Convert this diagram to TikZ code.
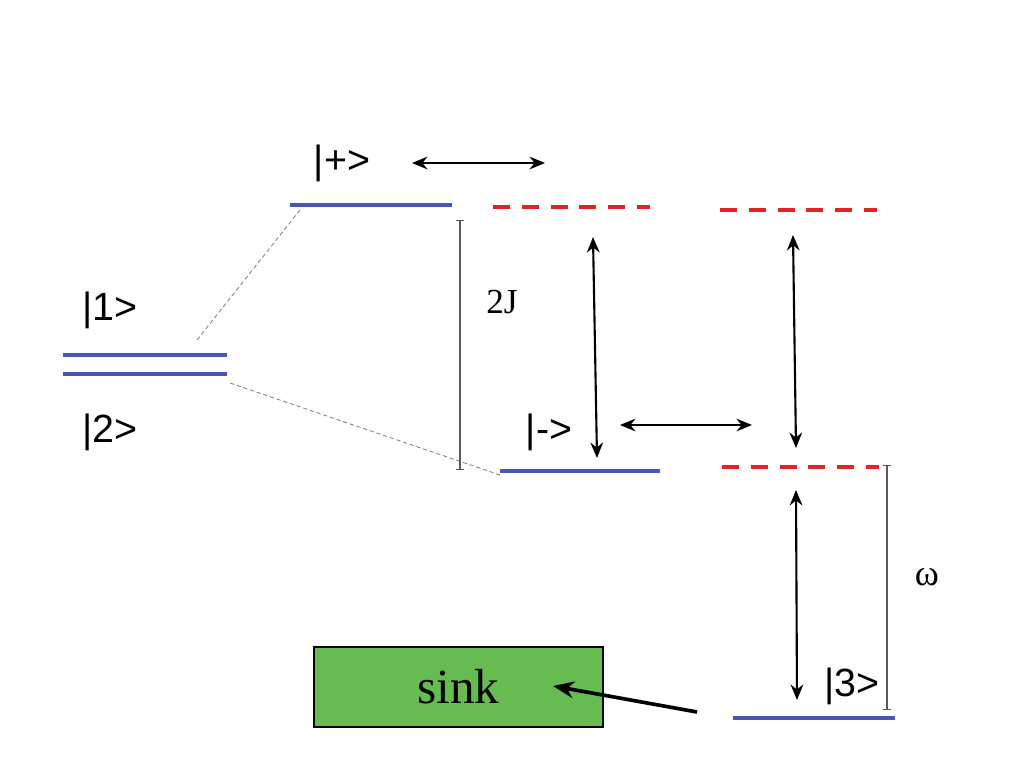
\documentclass[tikz,border=0pt]{standalone}
\usepackage{fontspec}
\setmainfont{Liberation Serif}
\setsansfont{Liberation Sans}
\usetikzlibrary{arrows.meta}
\definecolor{levelblue}{HTML}{4A55B8}
\definecolor{virtred}{HTML}{E02424}
\definecolor{sinkgreen}{HTML}{66BC50}
\tikzset{
  level/.style={draw=levelblue, line width=2.2pt},
  virtual/.style={draw=virtred, line width=3pt, dash pattern=on 12pt off 8.5pt},
  coupling/.style={{Stealth[length=11pt,width=9pt]}-{Stealth[length=11pt,width=9pt]}, line width=1.5pt},
  gap/.style={{Bar[width=6pt]}-{Bar[width=6pt]}, draw=black!65, line width=0.8pt},
  ket/.style={font=\sffamily\fontsize{28}{30}\selectfont, inner sep=0pt},
  guide/.style={draw=black!50, densely dashed, line width=0.6pt}
}
\begin{document}
\begin{tikzpicture}[x=0.025cm, y=-0.025cm]
\useasboundingbox (0,0) rectangle (1024,768);
% levels
\draw[level] (63,355) -- (227,355);
\draw[level] (63,374) -- (227,374);
\draw[level] (290,205) -- (452,205);
\draw[level] (500,471) -- (660,471);
\draw[level] (733,718) -- (895,718);
\draw[virtual] (493,207) -- (650,207);
\draw[virtual] (720,210) -- (877,210);
\draw[virtual] (722,467) -- (879,467);
% splitting guides
\draw[guide] (197,340) -- (300,210);
\draw[guide] (230,383) -- (500,475);
% labels
\node[ket] (one) at (110,310) {|1>};
\node[ket] (two) at (110,432) {|2>};
\node[ket] (plus) at (342,163) {|+>};
\node[ket] (minus) at (549,432) {|->};
\node[ket] (three) at (852,686) {|3>};
% energy gaps
\draw[gap] (460,220) -- (460,470);
\node[font=\fontsize{25}{27}\selectfont] (twoJ) at (502,302) {2J};
\draw[gap] (887,465) -- (887,710);
\node[font=\fontsize{26}{28}\selectfont] (omega) at (927,577) {ω};
% couplings
\draw[coupling] (412,163) -- (545,163);
\draw[coupling] (620,425) -- (752,425);
\draw[coupling] (593,237) -- (597,458);
\draw[coupling] (793,235) -- (796,448);
\draw[coupling] (796,490) -- (797,700);
% sink
\node[draw=black, line width=1.2pt, fill=sinkgreen, minimum width=289*0.025cm,
  minimum height=80*0.025cm, font=\fontsize{35}{37}\selectfont] (sink) at (458.5,687) {sink};
\coordinate (decay) at (697,712);
\draw[-{Stealth[length=15pt,width=12pt]}, line width=2.6pt] (decay) -- (553,686);
\end{tikzpicture}
\end{document}
